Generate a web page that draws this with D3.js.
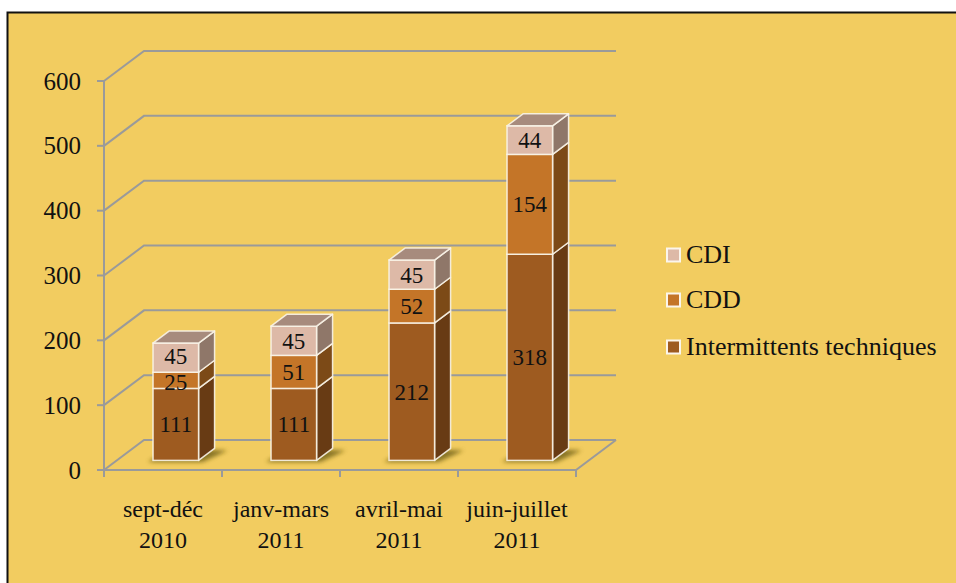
<!DOCTYPE html>
<html><head><meta charset="utf-8">
<script src="https://cdn.jsdelivr.net/npm/d3@7"></script>
<style>
html,body{margin:0;padding:0;background:#fff;}
svg{display:block;}
text{font-family:"Liberation Serif","Times New Roman",serif;fill:#111;}
</style></head><body>
<svg id="chart" width="956" height="583"></svg>
<script>
// ---- data ----
const categories = [["sept-déc","2010"],["janv-mars","2011"],["avril-mai","2011"],["juin-juillet","2011"]];
const seriesNames = ["Intermittents techniques","CDD","CDI"];
const intermittents = [111,111,212,318];
const cdd = [25,51,52,154];
const cdi = [45,45,45,44];
const yTicks = [0,100,200,300,400,500,600];
const legendOrder = ["CDI","CDD","Intermittents techniques"];

// ---- styling ----
const colors = {
  "Intermittents techniques": {front:"#9E5B20", side:"#683B14", top:"#8A5220"},
  "CDD": {front:"#C47528", side:"#7C4A17", top:"#A8652A"},
  "CDI": {front:"#DDB9A7", side:"#8F7769", top:"#A78B7D"}
};
const W = 956, H = 583;
const svg = d3.select("#chart");
const defs = svg.append("defs");
defs.append("filter").attr("id","blur").attr("x","-50%").attr("y","-50%").attr("width","200%").attr("height","200%")
  .append("feGaussianBlur").attr("stdDeviation",2.2);

// background + border
svg.append("rect").attr("x",7).attr("y",12.5).attr("width",W).attr("height",H).attr("fill","#F2CC60");
svg.append("path").attr("d",`M7.5,${H} L7.5,12.5 L${W},12.5`).attr("fill","none").attr("stroke","#111").attr("stroke-width",2);

const cats = categories.map(c=>c.join(" "));
const x = d3.scaleBand().domain(cats).range([104,576]).padding(0);
const y = d3.scaleLinear().domain([0,600]).range([470,81]);
const D = {dx:40, dy:-30};        // full depth offset
const f0 = 0.32, f1 = 0.72;       // bar front/back depth fractions
const barFrac = 0.386;

const grid = svg.append("g").attr("stroke","#9A9A9A").attr("stroke-width",2).attr("fill","none");
yTicks.forEach(t=>{
  const yy = y(t);
  grid.append("path").attr("d",`M${x.range()[0]},${yy} L${x.range()[0]+D.dx},${yy+D.dy} L${x.range()[1]+D.dx},${yy+D.dy}`);
});
grid.append("path").attr("d",`M${x.range()[0]},${y(0)} L${x.range()[1]},${y(0)} L${x.range()[1]+D.dx},${y(0)+D.dy}`);
grid.append("line").attr("x1",104).attr("x2",104).attr("y1",y(0)).attr("y2",y(600));
yTicks.forEach(t=>{
  grid.append("line").attr("x1",97).attr("x2",104).attr("y1",y(t)).attr("y2",y(t));
});
const catEdges = cats.map(c=>x(c)).concat([x.range()[1]]);
catEdges.forEach(e=>{
  grid.append("line").attr("x1",e).attr("x2",e).attr("y1",y(0)).attr("y2",y(0)+7);
});

// y labels
svg.append("g").selectAll("text").data(yTicks).join("text")
  .attr("x",81).attr("y",d=>y(d)+8.5).attr("text-anchor","end").attr("font-size",25).text(d=>d);

// category labels
const cl = svg.append("g");
categories.forEach((c,i)=>{
  const cx = x(cats[i]) + x.bandwidth()/2;
  const t = cl.append("text").attr("text-anchor","middle").attr("font-size",24);
  t.append("tspan").attr("x",cx).attr("y",517).text(c[0]);
  t.append("tspan").attr("x",cx).attr("y",548).text(c[1]);
});

// stack
const rows = cats.map((c,i)=>({cat:c,"Intermittents techniques":intermittents[i],"CDD":cdd[i],"CDI":cdi[i]}));
const stacked = d3.stack().keys(seriesNames)(rows);

const bars = svg.append("g");
const bx0 = f0*D.dx, by0 = f0*D.dy;
const bdx = (f1-f0)*D.dx, bdy = (f1-f0)*D.dy;
const edge = "rgba(250,244,232,0.9)";
const labelFont = 23, minGap = 26;

rows.forEach((r,i)=>{
  const cx = x(r.cat) + x.bandwidth()/2 + bx0;
  const bw = x.bandwidth()*barFrac;
  const xl = cx - bw/2, xr = cx + bw/2;
  const yb = y(0) + by0;
  // shadow
  bars.append("path")
    .attr("d",`M${xl-5},${yb+1.5} L${xr+4},${yb+1.5} L${xr+bdx+13},${yb+bdy+2} L${xl+bdx},${yb+bdy} Z`)
    .attr("fill","#6E5E14").attr("opacity",0.8).attr("filter","url(#blur)");
  const g = bars.append("g");
  const labels = [];
  stacked.forEach((s,k)=>{
    const d = s[i];
    const yt = y(d[1]) + by0, ybot = y(d[0]) + by0;
    const col = colors[s.key];
    g.append("path").attr("d",`M${xr},${ybot} L${xr+bdx},${ybot+bdy} L${xr+bdx},${yt+bdy} L${xr},${yt} Z`)
      .attr("fill",col.side).attr("stroke",edge).attr("stroke-width",1.5).attr("stroke-linejoin","round");
    g.append("rect").attr("x",xl).attr("y",yt).attr("width",bw).attr("height",ybot-yt)
      .attr("fill",col.front).attr("stroke",edge).attr("stroke-width",1.5);
    if(k===stacked.length-1){
      g.append("path").attr("d",`M${xl},${yt} L${xr},${yt} L${xr+bdx},${yt+bdy} L${xl+bdx},${yt+bdy} Z`)
        .attr("fill",col.top).attr("stroke",edge).attr("stroke-width",1.5).attr("stroke-linejoin","round");
    }
    labels.push({c:(yt+ybot)/2, v:d.data[s.key]});
  });
  // resolve label collisions (bottom to top)
  for(let k=1;k<labels.length;k++){
    const gap = labels[k-1].c - labels[k].c;
    if(gap < minGap){
      const push = (minGap-gap)/2;
      labels[k-1].c += push; labels[k].c -= push;
    }
  }
  labels.forEach(l=>{
    g.append("text").attr("x",cx).attr("y",l.c+8).attr("text-anchor","middle")
      .attr("font-size",labelFont).text(l.v);
  });
});

// legend
const lg = svg.append("g");
const legY = [255.5,300.5,347.5];
legendOrder.forEach((name,i)=>{
  lg.append("rect").attr("x",667).attr("y",legY[i]-7).attr("width",13).attr("height",13)
    .attr("fill",colors[name].front).attr("stroke","#FBF5EC").attr("stroke-width",2);
  lg.append("text").attr("x",686).attr("y",legY[i]+7.5).attr("font-size",26).text(name);
});
</script>
</body></html>
